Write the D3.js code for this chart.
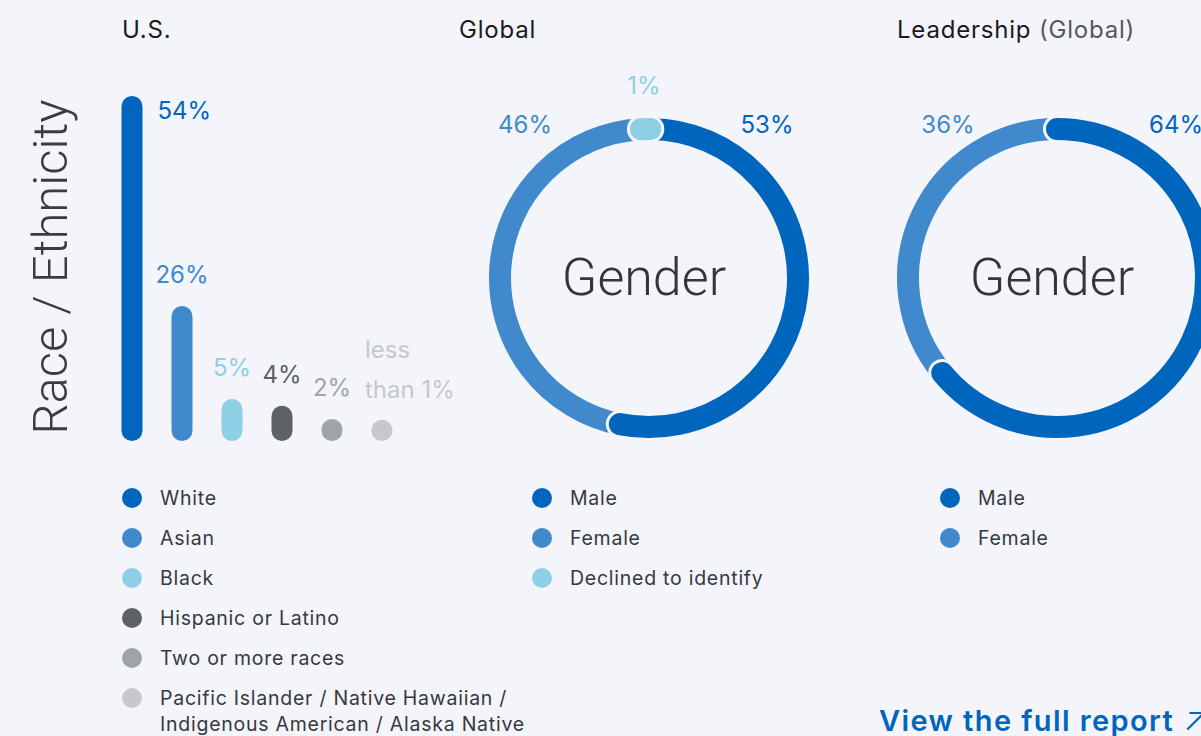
<!DOCTYPE html>
<html>
<head>
<meta charset="utf-8">
<script src="https://cdn.jsdelivr.net/npm/d3@7"></script>
<style>
  body { margin: 0; background: #f3f5fa; }
  svg { display: block; font-family: "Inter", "Noto Sans", sans-serif; }
  .thin { font-family: "Roboto", "Inter", sans-serif; font-weight: 300; }
</style>
</head>
<body>
<svg id="chart" width="1201" height="736"></svg>
<script>
// U.S. race / ethnicity
var raceCats = ["White", "Asian", "Black", "Hispanic or Latino", "Two or more races",
  "Pacific Islander / Native Hawaiian /\nIndigenous American / Alaska Native"];
var raceValues = [54, 26, 5, 4, 2, 0.5];
var raceLabels = ["54%", "26%", "5%", "4%", "2%", "less\nthan 1%"];
var raceColors = ["#0065bd", "#4189cd", "#8ecfe5", "#5e6166", "#9fa4ab", "#c6c8cc"];

// Global gender
var globalCats = ["Male", "Female", "Declined to identify"];
var globalValues = [53, 46, 1];
var globalLabels = ["53%", "46%", "1%"];

// Leadership gender
var leaderCats = ["Male", "Female"];
var leaderValues = [64, 36];
var leaderLabels = ["64%", "36%"];

var genderColors = ["#0065bd", "#4189cd", "#8ecfe5"];
var bg = "#f3f5fa";

var svg = d3.select("#chart");
svg.append("rect").attr("width", 1201).attr("height", 736).attr("fill", bg);

// column titles
function title(tx, parts) {
  var t = svg.append("text").attr("x", tx).attr("y", 38)
      .attr("font-size", 24).attr("letter-spacing", 0.8).attr("fill", "#1b1b1d");
  t.selectAll("tspan").data(parts).enter().append("tspan")
      .attr("fill", function(d, i) { return i ? "#55585d" : null; })
      .text(function(d) { return d; });
}
title(122, ["U.S."]);
title(459, ["Global"]);
title(897, ["Leadership ", "(Global)"]);

// vertical title
svg.append("text")
    .attr("class", "thin")
    .attr("transform", "translate(67,267) rotate(-90)")
    .attr("text-anchor", "middle")
    .attr("font-size", 49)
    .attr("fill", "#3a3c40")
    .text("Race / Ethnicity");

// ---- bars ----
var base = 441;
var x = d3.scaleBand().domain(raceCats).range([107, 407]).paddingInner(0.58).paddingOuter(0.29);
// bar heights as drawn in the original (not linear)
var h = d3.scaleLinear().domain([0, 2, 5, 26, 54]).range([21, 22, 42, 135, 345]).clamp(true);

svg.append("g").selectAll("rect")
  .data(raceValues)
  .enter().append("rect")
    .attr("x", function(d, i) { return x(raceCats[i]); })
    .attr("y", function(d) { return base - h(d); })
    .attr("width", x.bandwidth())
    .attr("height", function(d) { return h(d); })
    .attr("rx", x.bandwidth() / 2)
    .attr("fill", function(d, i) { return raceColors[i]; });

svg.append("g").selectAll("text")
  .data(raceValues)
  .enter().append("text")
    .attr("font-size", 24)
    .attr("fill", function(d, i) { return raceColors[i]; })
    .each(function(d, i) {
      var t = d3.select(this);
      var cx = x(raceCats[i]) + x.bandwidth() / 2;
      var top = base - h(d);
      var lines = raceLabels[i].split("\n");
      if (i == 0) {
        // tallest bar: label sits beside its top
        t.attr("x", x(raceCats[i]) + x.bandwidth() + 15).attr("y", top + 23).text(lines[0]);
      } else if (lines.length > 1) {
        t.selectAll("tspan").data(lines).enter().append("tspan")
          .attr("x", cx - 17)
          .attr("y", function(l, j) { return top - 22 - (lines.length - 1 - j) * 40; })
          .text(function(l) { return l; });
      } else {
        t.attr("x", cx).attr("y", top - 23).attr("text-anchor", "middle").text(lines[0]);
      }
    });

// ---- legends ----
function legend(cats, colors, lx, ly) {
  var g = svg.append("g").attr("transform", "translate(" + lx + "," + ly + ")");
  var item = g.selectAll("g").data(cats).enter().append("g")
      .attr("transform", function(d, i) { return "translate(0," + i * 40 + ")"; });
  item.append("circle").attr("r", 10).attr("fill", function(d, i) { return colors[i]; });
  item.append("text")
      .attr("font-size", 19.5)
      .attr("letter-spacing", 0.75)
      .attr("fill", "#36393e")
    .selectAll("tspan")
      .data(function(d) { return d.split("\n"); })
    .enter().append("tspan")
      .attr("x", 28)
      .attr("y", function(d, i) { return 7 + i * 26; })
      .text(function(d) { return d; });
}
legend(raceCats, raceColors, 132, 498);
legend(globalCats, genderColors, 542, 498);
legend(leaderCats, genderColors, 950, 498);

// ---- donuts ----
var r = 149, thick = 22;

function arcLine(cx, cy, a0, a1) {
  var p = d3.path();
  p.moveTo(cx + r * Math.sin(a0), cy - r * Math.cos(a0));
  p.arc(cx, cy, r, a0 - Math.PI / 2, a1 - Math.PI / 2);
  return p.toString();
}

function donut(cx, cy, values, labels, start, labelPos) {
  var pie = d3.pie().sort(null).startAngle(start).endAngle(start + 2 * Math.PI);
  var arcs = pie(values);
  var g = svg.append("g");
  // female first (butt ends hidden under neighbours), then male, then the small pill
  [1, 0, 2].forEach(function(i) {
    var a = arcs[i];
    if (!a) return;
    var d = arcLine(cx, cy, a.startAngle, a.endAngle);
    var cap = i == 1 ? "butt" : "round";
    if (i != 1) {
      g.append("path").attr("d", d).attr("fill", "none")
        .attr("stroke", bg).attr("stroke-width", thick + 6).attr("stroke-linecap", cap);
    }
    g.append("path").attr("d", d).attr("fill", "none")
      .attr("stroke", genderColors[i]).attr("stroke-width", thick).attr("stroke-linecap", cap);
  });
  g.selectAll("text.pct").data(labels).enter().append("text")
      .attr("class", "pct")
      .attr("x", function(d, i) { return cx + labelPos[i][0]; })
      .attr("y", function(d, i) { return cy + labelPos[i][1]; })
      .attr("text-anchor", "middle")
      .attr("font-size", 24)
      .attr("fill", function(d, i) { return genderColors[i]; })
      .text(function(d) { return d; });
  g.append("text")
      .attr("class", "thin")
      .attr("x", cx - 5).attr("y", cy + 17)
      .attr("text-anchor", "middle")
      .attr("font-size", 52)
      .attr("fill", "#333539")
      .text("Gender");
}

donut(649, 278, globalValues, globalLabels, 0.5 * Math.PI / 180, [[118, -145], [-124, -145], [-5, -184]]);
donut(1057, 278, leaderValues, leaderLabels, 0, [[119, -145], [-109, -145]]);

// link
var link = svg.append("text")
    .attr("x", 879).attr("y", 731)
    .attr("font-size", 29)
    .attr("font-weight", 600)
    .attr("letter-spacing", 1.4)
    .attr("fill", "#0065bd");
link.append("tspan").text("View the full report ");
link.append("tspan").attr("font-weight", 300).attr("font-size", 34).text("\u2197");
</script>
</body>
</html>
